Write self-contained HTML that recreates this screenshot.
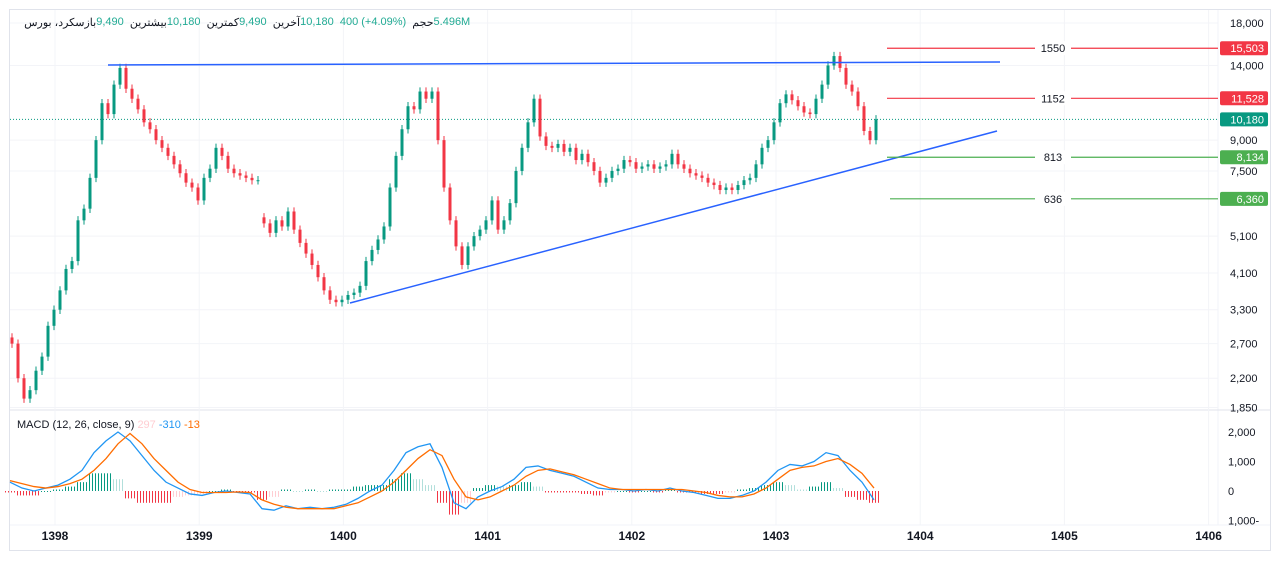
<!DOCTYPE html>
<html><head><meta charset="utf-8">
<style>
body{margin:0;background:#fff;width:1280px;height:561px;overflow:hidden;font-family:"Liberation Sans","Noto Sans CJK SC",sans-serif}
#hdr{position:absolute;left:18px;top:16px;font-size:11px;color:#131722;display:flex;gap:0;white-space:nowrap}
#hdr span{unicode-bidi:isolate}
.v{color:#22ab94}
</style></head><body>
<svg id="c" width="1280" height="561" style="position:absolute;left:0;top:0"></svg>
<div id="hdr">
<span dir="rtl">سکرد، بورس&nbsp;&nbsp;</span><span dir="rtl">باز</span><span class="v">9,490&nbsp;&nbsp;</span><span dir="rtl">بیشترین</span><span class="v">10,180&nbsp;&nbsp;</span><span dir="rtl">کمترین</span><span class="v">9,490&nbsp;&nbsp;</span><span dir="rtl">آخرین</span><span class="v">10,180&nbsp;&nbsp;400 (+4.09%)&nbsp;&nbsp;</span><span dir="rtl">حجم</span><span class="v">5.496M</span>
</div>
<script>
const closes=[2700,2200,1950,2050,2300,2500,3000,3300,3700,4200,4400,5600,6000,7200,9000,11200,10500,12500,13800,12200,11500,10800,10000,9600,9000,8600,8200,7800,7400,7000,6800,6300,7200,7600,8600,8200,7600,7400,7300,7200,7100,7100,
5500,5200,5600,5400,5900,5300,4900,4600,4300,4000,3700,3500,3450,3500,3600,3650,3800,4400,4700,5000,5400,6800,8200,9600,11000,10800,12000,11500,12000,9000,6800,5600,4800,4300,4800,5100,5300,5600,6300,5300,5600,6200,7500,8600,10000,11500,9200,8700,8600,8800,8400,8600,8000,8300,7900,7500,7000,7200,7500,7600,8000,7900,7600,7700,7800,7600,7700,7800,8300,7800,7600,7400,7300,7200,7000,6900,6700,6800,6700,6900,7100,7200,7800,8600,9000,10000,11200,11800,11400,11000,10600,10500,11500,12500,14000,14800,13800,12500,12000,11000,9500,9000,10180];
const macdVals=[300,100,0,100,200,400,700,1300,1700,2000,1700,1200,700,300,100,-100,-150,-50,0,-50,-100,-600,-650,-500,-600,-550,-600,-550,-450,-250,0,200,700,1300,1500,1600,800,-400,-600,-200,0,150,400,800,850,700,600,500,300,100,50,50,0,50,0,100,0,-50,-150,-250,-250,-150,0,300,700,900,850,1000,1300,1200,700,300,-300];
const signalVals=[350,250,150,100,150,250,400,700,1100,1600,1950,1600,1100,700,300,50,-50,-50,-50,-30,-50,-300,-450,-550,-600,-600,-600,-600,-500,-400,-200,0,300,700,1100,1400,1200,400,-200,-300,-200,0,200,500,700,750,650,550,400,250,100,50,50,50,50,50,50,0,-50,-150,-200,-200,-100,100,400,700,800,850,1000,1100,900,600,100];
const priceTicks=[18000,14000,9000,7500,5100,4100,3300,2700,2200,1850];
const macdTicks=[2000,1000,0,-1000];
const years=["1398","1399","1400","1401","1402","1403","1404","1405","1406"];
const levels=[{v:15503,lab:"1550",c:"#f23645",x0:887},{v:11528,lab:"1152",c:"#f23645",x0:887},{v:8134,lab:"813",c:"#4caf50",x0:887},{v:6360,lab:"636",c:"#4caf50",x0:890}];
const last=10180;
const NS="http://www.w3.org/2000/svg",svg=document.getElementById('c');
function el(t,a,p){const e=document.createElementNS(NS,t);for(const k in a)e.setAttribute(k,a[k]);(p||svg).appendChild(e);return e;}
const py=p=>23+(Math.log(18000)-Math.log(p))*169;
const my=v=>491-v*0.0295;
const cx=i=>12+i*6;
const mx=i=>10+i*12;
const yx=i=>55+i*144.2;
let f=el('rect',{x:9.5,y:9.5,width:1261,height:541,fill:'none',stroke:'#e0e3eb'});

el('line',{x1:1218,y1:10,x2:1218,y2:525,stroke:'#f0f3fa'});
el('line',{x1:10,y1:410,x2:1270,y2:410,stroke:'#e0e3eb'});
el('line',{x1:10,y1:525,x2:1270,y2:525,stroke:'#f0f3fa'});
years.forEach((y,i)=>{el('line',{x1:yx(i),y1:10,x2:yx(i),y2:525,stroke:'#f3f4f8'});
 const t=el('text',{x:yx(i),y:540,'font-size':12,'font-weight':'bold','text-anchor':'middle',fill:'#131722'});t.textContent=y;
 });
priceTicks.forEach(v=>{el('line',{x1:10,y1:py(v),x2:1218,y2:py(v),stroke:'#f3f4f8'});
 const t=el('text',{x:1230,y:py(v)+4,'font-size':11,fill:'#131722'});t.textContent=v.toLocaleString('en-US');
 });
macdTicks.forEach(v=>{const t=el('text',{x:1228,y:my(v)+4,'font-size':11,fill:'#131722'});t.textContent=v<0?Math.abs(v).toLocaleString('en-US')+'-':v.toLocaleString('en-US');
 });
el('line',{x1:10,y1:py(last),x2:1218,y2:py(last),stroke:'#089981','stroke-dasharray':'1 2'});
const cg=el('g',{});
closes.forEach((c,i)=>{const o=i===0?2800:(i===42?5700:closes[i-1]);const up=c>=o;const col=up?'#089981':'#f23645';
 const hi=Math.max(o,c)*1.025,lo=Math.min(o,c)*0.975;const x=cx(i);
 el('line',{x1:x,y1:py(hi),x2:x,y2:py(lo),stroke:col,'stroke-width':1},cg);
 const b=el('rect',{x:x-1.5,y:py(Math.max(o,c)),width:3,height:Math.max(1,py(Math.min(o,c))-py(Math.max(o,c))),fill:col},cg);
 });
let t1=el('line',{x1:108,y1:65,x2:1000,y2:62,stroke:'#2962ff','stroke-width':1.5});
let t2=el('line',{x1:350,y1:303,x2:997,y2:131,stroke:'#2962ff','stroke-width':1.5});
levels.forEach(L=>{const y=py(L.v);
 const ln=el('line',{x1:L.x0,y1:y,x2:1218,y2:y,stroke:L.c,'stroke-width':1.2});
 el('rect',{x:1035,y:y-7,width:36,height:14,fill:'#fff'});
 const t=el('text',{x:1053,y:y+4,'font-size':11,'text-anchor':'middle',fill:'#131722'});t.textContent=L.lab;
 
 el('rect',{x:1220,y:y-7,width:48,height:14,fill:L.c,rx:2});
 const p=el('text',{x:1264,y:y+4,'font-size':11,'text-anchor':'end',fill:'#fff'});p.textContent=L.v.toLocaleString('en-US');
 });
el('rect',{x:1220,y:py(last)-7,width:48,height:14,fill:'#089981',rx:2});
let lt=el('text',{x:1264,y:py(last)+4,'font-size':11,'text-anchor':'end',fill:'#fff'});lt.textContent=last.toLocaleString('en-US');

const hg=el('g',{});
macdVals.forEach((m,i)=>{const h=m-signalVals[i];const prev=i?macdVals[i-1]-signalVals[i-1]:h;
 let col=h>=0?(h>=prev?'#089981':'#b2dfdb'):(h<=prev?'#f23645':'#ffcdd2');
 for(let k=-4.5;k<=4.5;k+=3){el('rect',{x:mx(i)+k-0.5,y:Math.min(my(0),my(h)),width:1,height:Math.max(1,Math.abs(my(h)-my(0))),fill:col},hg);}});
const lp=a=>a.map((v,i)=>(i?'L':'M')+mx(i)+','+my(v)).join('');
let ml=el('path',{d:lp(macdVals),fill:'none',stroke:'#2196f3','stroke-width':1.3});
let sl=el('path',{d:lp(signalVals),fill:'none',stroke:'#ff6d00','stroke-width':1.3});
const lg=el('text',{x:17,y:428,'font-size':11,fill:'#131722'});
lg.innerHTML='MACD (12, 26, close, 9) <tspan fill="#ffcdd2">297</tspan> <tspan fill="#2196f3">-310</tspan> <tspan fill="#ff6d00">-13</tspan>';
</script>
</body></html>
